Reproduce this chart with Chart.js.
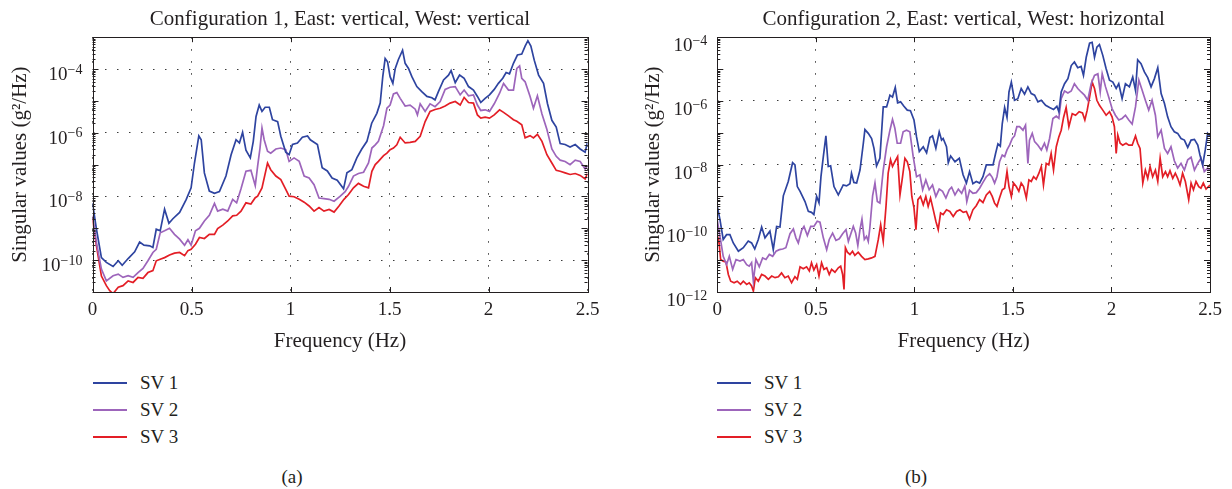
<!DOCTYPE html>
<html>
<head>
<meta charset="utf-8">
<script src="https://cdn.jsdelivr.net/npm/chart.js@4.4.1/dist/chart.umd.min.js"></script>
<style>
  body { margin: 0; background: #fff; }
  #page { position: relative; width: 1232px; height: 489px; font-family: "Liberation Serif", serif; color: #231f20; }
  #page canvas { position: absolute; top: 0; }
  .leg { position: absolute; height: 24px; line-height: 24px; font-size: 19px; white-space: nowrap; }
  .leg .sw { position: absolute; left: 0; top: 11px; width: 34px; height: 2px; }
  .leg .tx { position: absolute; left: 47px; top: 0; }
  .cap { position: absolute; font-size: 19px; line-height: 24px; width: 60px; text-align: center; }
</style>
</head>
<body>
<div id="page">
  <canvas id="chartA" width="616" height="356" style="left:0"></canvas>
  <canvas id="chartB" width="616" height="356" style="left:616px"></canvas>
  <div id="legendA"></div>
  <div id="legendB"></div>
  <div class="cap" style="left:262px; top:465px">(a)</div>
  <div class="cap" style="left:886px; top:465px">(b)</div>
</div>
<script>
// values are [frequency Hz, log10 of singular value]
const seriesNames = ['SV 1', 'SV 2', 'SV 3'];
const seriesColors = ['#2e44a0', '#9d65bb', '#e31e26'];
const xTickValues = [0, 0.5, 1, 1.5, 2, 2.5];
const yLabelExpsA = [-4, -6, -8, -10];
const yLabelExpsB = [-4, -6, -8, -10, -12];
const titleA = 'Configuration 1, East: vertical, West: vertical';
const titleB = 'Configuration 2, East: vertical, West: horizontal';

const svA1 = [[0,-8.2],[0.02,-9.03],[0.045,-9.92],[0.07,-10.07],[0.104,-10.2],[0.13,-10.02],[0.15,-10.16],[0.18,-9.95],[0.213,-9.74],[0.238,-9.43],[0.26,-9.53],[0.289,-9.55],[0.305,-9.6],[0.322,-9.03],[0.342,-9.08],[0.364,-8.4],[0.386,-8.84],[0.406,-8.7],[0.44,-8.5],[0.473,-8.1],[0.498,-7.73],[0.515,-6.95],[0.537,-6.1],[0.549,-6.22],[0.565,-7.26],[0.59,-7.83],[0.616,-7.9],[0.641,-7.85],[0.674,-7.36],[0.7,-6.69],[0.725,-6.22],[0.742,-6.32],[0.758,-5.99],[0.775,-6.55],[0.797,-6.79],[0.812,-6.27],[0.826,-5.49],[0.842,-5.13],[0.856,-5.33],[0.872,-5.2],[0.893,-5.2],[0.909,-5.59],[0.935,-5.65],[0.951,-6.11],[0.976,-6.61],[0.993,-6.69],[1.01,-6.37],[1.035,-6.32],[1.06,-6.14],[1.086,-6.1],[1.1,-6.22],[1.136,-6.37],[1.16,-7.1],[1.186,-7.2],[1.21,-7.42],[1.236,-7.49],[1.268,-7.76],[1.285,-7.26],[1.31,-7.16],[1.335,-6.79],[1.36,-6.51],[1.386,-6.27],[1.41,-5.7],[1.436,-5.39],[1.453,-5.07],[1.466,-4.24],[1.478,-3.67],[1.49,-3.77],[1.503,-4.24],[1.517,-4.45],[1.529,-3.98],[1.545,-3.7],[1.566,-3.41],[1.579,-3.82],[1.596,-3.98],[1.613,-4.24],[1.638,-4.55],[1.663,-4.71],[1.689,-4.86],[1.714,-4.9],[1.73,-4.97],[1.747,-4.71],[1.773,-4.34],[1.798,-4.19],[1.811,-4.05],[1.832,-4.43],[1.854,-4.19],[1.877,-4.29],[1.899,-4.55],[1.924,-4.66],[1.944,-4.86],[1.961,-5.05],[1.983,-4.92],[2.005,-4.81],[2.029,-4.64],[2.05,-4.45],[2.072,-4.29],[2.089,-4.11],[2.106,-4.15],[2.126,-3.82],[2.146,-3.56],[2.168,-3.53],[2.185,-3.28],[2.199,-3.11],[2.214,-3.28],[2.231,-3.72],[2.253,-4.19],[2.278,-4.45],[2.298,-5.09],[2.32,-5.61],[2.342,-5.82],[2.362,-6.34],[2.387,-6.37],[2.412,-6.45],[2.438,-6.37],[2.463,-6.51],[2.488,-6.61],[2.5,-6.3]];
const svA2 = [[0,-8.6],[0.02,-9.45],[0.045,-10.28],[0.07,-10.65],[0.104,-10.49],[0.13,-10.44],[0.154,-10.54],[0.18,-10.49],[0.205,-10.54],[0.23,-10.39],[0.255,-10.26],[0.28,-10.02],[0.305,-9.76],[0.322,-9.66],[0.342,-9.14],[0.364,-9.08],[0.389,-9.0],[0.414,-9.19],[0.44,-9.34],[0.465,-9.53],[0.482,-9.36],[0.498,-9.53],[0.52,-9.08],[0.54,-9.0],[0.565,-8.77],[0.59,-8.59],[0.616,-8.22],[0.632,-8.46],[0.658,-8.4],[0.683,-8.46],[0.708,-8.09],[0.728,-8.2],[0.75,-7.76],[0.775,-7.21],[0.8,-7.18],[0.822,-7.66],[0.834,-7.05],[0.846,-6.48],[0.856,-5.85],[0.867,-6.22],[0.884,-6.58],[0.9,-6.64],[0.926,-6.51],[0.951,-6.48],[0.976,-6.53],[0.993,-6.9],[1.018,-6.79],[1.044,-6.9],[1.069,-7.36],[1.094,-7.42],[1.119,-7.63],[1.144,-8.05],[1.169,-8.07],[1.195,-8.09],[1.22,-8.15],[1.25,-8.0],[1.276,-7.85],[1.293,-7.68],[1.318,-7.36],[1.343,-7.28],[1.369,-7.24],[1.394,-6.95],[1.411,-6.48],[1.428,-6.38],[1.444,-6.27],[1.47,-5.78],[1.487,-5.23],[1.503,-5.13],[1.52,-4.78],[1.537,-4.74],[1.554,-4.92],[1.579,-5.16],[1.604,-5.13],[1.63,-5.26],[1.641,-5.44],[1.655,-5.09],[1.68,-5.33],[1.705,-5.09],[1.73,-5.18],[1.756,-5.02],[1.781,-4.64],[1.806,-4.57],[1.832,-4.55],[1.857,-4.81],[1.877,-4.66],[1.899,-4.84],[1.924,-4.81],[1.944,-5.13],[1.961,-5.3],[1.983,-5.28],[2.005,-5.33],[2.029,-5.09],[2.056,-4.76],[2.076,-4.45],[2.101,-4.66],[2.126,-4.66],[2.143,-3.98],[2.157,-3.9],[2.168,-4.29],[2.185,-4.4],[2.21,-4.86],[2.227,-5.23],[2.247,-4.84],[2.27,-5.41],[2.295,-5.9],[2.32,-6.51],[2.342,-6.74],[2.362,-6.86],[2.387,-6.9],[2.412,-7.0],[2.438,-6.86],[2.463,-6.9],[2.488,-7.14],[2.5,-7.05]];
const svA3 = [[0,-8.7],[0.02,-9.55],[0.045,-10.5],[0.07,-10.8],[0.087,-10.96],[0.104,-11.05],[0.13,-10.85],[0.154,-10.8],[0.18,-10.65],[0.205,-10.7],[0.23,-10.54],[0.255,-10.57],[0.28,-10.39],[0.305,-10.33],[0.322,-10.02],[0.342,-9.97],[0.364,-9.92],[0.389,-9.84],[0.414,-9.78],[0.44,-9.76],[0.465,-9.86],[0.482,-9.7],[0.498,-9.66],[0.52,-9.5],[0.54,-9.29],[0.565,-9.32],[0.59,-9.19],[0.616,-9.19],[0.632,-9.01],[0.658,-8.9],[0.683,-8.77],[0.708,-8.61],[0.728,-8.59],[0.75,-8.46],[0.775,-8.2],[0.8,-8.24],[0.822,-8.04],[0.834,-7.99],[0.856,-7.73],[0.884,-6.95],[0.9,-7.16],[0.926,-7.36],[0.951,-7.47],[0.976,-7.78],[0.993,-7.99],[1.018,-8.01],[1.044,-8.09],[1.069,-8.18],[1.094,-8.3],[1.119,-8.46],[1.144,-8.35],[1.169,-8.46],[1.195,-8.41],[1.22,-8.49],[1.245,-8.3],[1.27,-8.09],[1.293,-7.94],[1.318,-7.73],[1.343,-7.59],[1.369,-7.68],[1.394,-7.73],[1.411,-7.21],[1.428,-7.0],[1.444,-6.9],[1.47,-6.72],[1.487,-6.64],[1.503,-6.53],[1.52,-6.48],[1.537,-6.38],[1.554,-6.14],[1.579,-6.32],[1.604,-6.3],[1.63,-6.27],[1.655,-6.11],[1.68,-5.65],[1.705,-5.33],[1.73,-5.27],[1.756,-5.23],[1.781,-5.16],[1.806,-5.07],[1.832,-5.02],[1.857,-5.13],[1.877,-4.89],[1.899,-5.05],[1.924,-5.07],[1.944,-5.44],[1.961,-5.54],[1.983,-5.51],[2.005,-5.54],[2.029,-5.44],[2.056,-5.28],[2.076,-5.36],[2.101,-5.47],[2.126,-5.59],[2.143,-5.64],[2.168,-5.75],[2.185,-6.16],[2.21,-6.09],[2.227,-6.16],[2.247,-6.05],[2.27,-6.27],[2.295,-6.69],[2.32,-6.95],[2.342,-7.18],[2.362,-7.21],[2.387,-7.26],[2.412,-7.31],[2.438,-7.28],[2.463,-7.34],[2.488,-7.45],[2.5,-7.28]];

const svB1 = [[0,-9.31],[0.0135,-9.73],[0.03,-10.35],[0.047,-10.2],[0.064,-10.2],[0.081,-10.46],[0.107,-10.72],[0.132,-10.61],[0.157,-10.4],[0.174,-10.46],[0.19,-10.65],[0.208,-10.35],[0.225,-9.96],[0.242,-10.3],[0.267,-10.09],[0.284,-10.67],[0.301,-9.94],[0.318,-9.96],[0.335,-8.98],[0.36,-8.53],[0.382,-7.94],[0.394,-8.01],[0.406,-8.69],[0.42,-8.84],[0.445,-9.16],[0.462,-9.47],[0.478,-9.5],[0.49,-9.57],[0.504,-9.0],[0.516,-9.2],[0.526,-8.38],[0.538,-7.75],[0.551,-7.1],[0.563,-8.06],[0.575,-8.04],[0.592,-8.69],[0.614,-8.95],[0.639,-8.64],[0.656,-8.67],[0.673,-8.6],[0.681,-8.27],[0.693,-8.56],[0.707,-8.58],[0.724,-8.17],[0.741,-7.33],[0.749,-6.9],[0.766,-7.02],[0.783,-7.18],[0.795,-7.49],[0.808,-8.04],[0.825,-7.8],[0.842,-6.19],[0.859,-6.19],[0.876,-5.82],[0.889,-5.88],[0.903,-5.58],[0.915,-6.06],[0.93,-6.03],[0.947,-6.17],[0.964,-6.29],[0.98,-6.31],[0.998,-6.6],[1.011,-7.13],[1.025,-7.59],[1.045,-7.44],[1.062,-7.63],[1.079,-7.15],[1.092,-7.1],[1.109,-7.49],[1.126,-6.97],[1.138,-7.23],[1.146,-7.18],[1.163,-7.44],[1.172,-7.94],[1.184,-7.73],[1.206,-7.91],[1.228,-7.8],[1.247,-8.32],[1.264,-8.58],[1.28,-8.22],[1.297,-8.6],[1.314,-8.53],[1.331,-8.58],[1.348,-8.38],[1.365,-8.01],[1.382,-8.01],[1.399,-8.01],[1.412,-7.65],[1.424,-7.35],[1.436,-7.42],[1.446,-6.71],[1.458,-6.21],[1.47,-6.52],[1.48,-5.72],[1.492,-5.41],[1.508,-5.98],[1.525,-5.93],[1.542,-5.61],[1.559,-5.79],[1.576,-5.56],[1.593,-5.77],[1.61,-5.82],[1.627,-6.03],[1.644,-5.98],[1.666,-6.14],[1.686,-6.21],[1.706,-6.27],[1.723,-6.17],[1.733,-6.34],[1.745,-5.72],[1.762,-5.46],[1.779,-5.3],[1.796,-4.89],[1.812,-4.78],[1.829,-4.96],[1.846,-4.92],[1.858,-5.2],[1.872,-4.63],[1.889,-4.19],[1.902,-4.16],[1.914,-4.63],[1.926,-4.31],[1.939,-4.23],[1.956,-4.57],[1.973,-4.99],[1.99,-5.35],[2.007,-5.41],[2.024,-5.61],[2.037,-5.46],[2.054,-5.93],[2.071,-5.46],[2.091,-5.56],[2.108,-5.25],[2.122,-5.67],[2.133,-4.71],[2.15,-4.83],[2.167,-5.09],[2.184,-5.27],[2.201,-5.56],[2.218,-5.3],[2.235,-4.96],[2.252,-5.77],[2.269,-6.08],[2.285,-6.5],[2.302,-6.81],[2.319,-6.97],[2.336,-7.02],[2.353,-7.18],[2.37,-7.23],[2.387,-7.46],[2.404,-7.23],[2.421,-7.21],[2.438,-7.39],[2.449,-7.7],[2.463,-8.01],[2.476,-7.54],[2.488,-7.02],[2.5,-7.1]];
const svB2 = [[0,-9.75],[0.0135,-10.25],[0.03,-10.88],[0.047,-11.14],[0.061,-10.88],[0.078,-11.29],[0.095,-10.98],[0.115,-11.03],[0.132,-10.98],[0.149,-11.14],[0.162,-11.19],[0.174,-11.08],[0.183,-11.66],[0.196,-10.98],[0.213,-11.21],[0.23,-10.93],[0.247,-10.98],[0.264,-10.82],[0.281,-10.88],[0.298,-10.72],[0.315,-10.67],[0.332,-10.65],[0.348,-10.61],[0.369,-10.17],[0.386,-10.02],[0.399,-10.3],[0.411,-10.46],[0.428,-10.06],[0.44,-9.94],[0.457,-10.23],[0.474,-9.94],[0.49,-9.94],[0.507,-9.78],[0.521,-9.81],[0.538,-10.3],[0.555,-10.67],[0.568,-10.35],[0.585,-10.15],[0.602,-10.38],[0.619,-10.33],[0.636,-10.17],[0.653,-10.04],[0.665,-10.41],[0.676,-10.2],[0.69,-9.94],[0.702,-10.15],[0.713,-10.54],[0.724,-10.04],[0.734,-9.71],[0.746,-10.35],[0.757,-10.25],[0.766,-10.41],[0.774,-9.99],[0.788,-8.98],[0.8,-8.58],[0.812,-9.16],[0.825,-9.21],[0.842,-8.17],[0.859,-7.44],[0.876,-6.92],[0.889,-6.58],[0.901,-6.86],[0.913,-7.33],[0.93,-7.33],[0.943,-6.97],[0.96,-6.92],[0.977,-6.97],[0.994,-7.75],[1.011,-8.38],[1.028,-8.32],[1.042,-8.79],[1.058,-8.48],[1.075,-8.79],[1.092,-8.64],[1.109,-9.0],[1.126,-8.77],[1.143,-8.84],[1.16,-9.05],[1.177,-8.79],[1.189,-8.71],[1.206,-8.95],[1.223,-8.77],[1.24,-8.9],[1.256,-8.67],[1.266,-9.16],[1.28,-8.81],[1.297,-8.9],[1.314,-8.88],[1.331,-8.74],[1.348,-8.56],[1.365,-8.38],[1.382,-8.29],[1.395,-8.4],[1.407,-8.58],[1.419,-8.38],[1.432,-7.91],[1.446,-7.7],[1.458,-7.75],[1.47,-7.54],[1.483,-7.39],[1.497,-7.18],[1.508,-7.1],[1.52,-6.81],[1.534,-6.81],[1.551,-6.92],[1.564,-6.76],[1.576,-7.96],[1.584,-7.23],[1.598,-7.02],[1.61,-7.28],[1.627,-7.39],[1.644,-7.54],[1.66,-7.33],[1.672,-7.54],[1.686,-7.18],[1.703,-6.55],[1.72,-6.48],[1.733,-6.55],[1.745,-5.93],[1.762,-5.69],[1.779,-5.75],[1.796,-5.69],[1.812,-5.46],[1.829,-5.61],[1.846,-5.72],[1.863,-5.82],[1.88,-5.98],[1.897,-5.46],[1.914,-5.2],[1.931,-5.15],[1.943,-5.72],[1.953,-5.15],[1.97,-5.56],[1.986,-5.88],[2.003,-6.24],[2.02,-6.45],[2.037,-6.6],[2.054,-6.55],[2.071,-6.45],[2.088,-6.6],[2.105,-6.73],[2.122,-6.19],[2.139,-5.35],[2.155,-5.65],[2.172,-5.98],[2.189,-6.29],[2.206,-5.98],[2.223,-6.45],[2.235,-7.13],[2.252,-6.92],[2.269,-7.49],[2.285,-7.65],[2.302,-7.44],[2.319,-7.88],[2.336,-8.11],[2.353,-7.96],[2.37,-8.17],[2.387,-7.85],[2.404,-7.77],[2.421,-8.17],[2.438,-7.96],[2.454,-7.8],[2.471,-8.22],[2.488,-8.11],[2.5,-8.17]];
const svB3 = [[0,-10.46],[0.007,-10.33],[0.017,-10.98],[0.03,-11.03],[0.044,-11.06],[0.056,-11.45],[0.068,-11.66],[0.085,-11.71],[0.101,-11.66],[0.118,-11.76],[0.132,-11.66],[0.149,-11.76],[0.162,-11.71],[0.174,-11.81],[0.183,-11.97],[0.193,-11.55],[0.208,-11.66],[0.225,-11.45],[0.242,-11.5],[0.259,-11.6],[0.276,-11.5],[0.293,-11.55],[0.31,-11.52],[0.326,-11.4],[0.343,-11.55],[0.36,-11.5],[0.377,-11.71],[0.394,-11.52],[0.406,-11.6],[0.42,-11.21],[0.436,-11.27],[0.453,-11.21],[0.467,-11.34],[0.478,-11.08],[0.49,-11.31],[0.504,-11.14],[0.516,-11.5],[0.529,-11.08],[0.541,-11.29],[0.555,-11.24],[0.568,-11.45],[0.58,-11.29],[0.597,-11.38],[0.614,-11.24],[0.626,-11.19],[0.636,-11.45],[0.643,-11.92],[0.65,-10.61],[0.66,-10.75],[0.673,-10.82],[0.686,-10.72],[0.698,-10.85],[0.715,-10.75],[0.732,-10.88],[0.749,-10.98],[0.766,-10.96],[0.783,-10.93],[0.8,-10.88],[0.817,-10.35],[0.829,-9.89],[0.842,-10.41],[0.856,-9.31],[0.867,-8.27],[0.879,-7.85],[0.889,-8.06],[0.901,-7.91],[0.915,-7.75],[0.927,-8.95],[0.94,-8.38],[0.952,-7.8],[0.964,-7.91],[0.977,-8.22],[0.987,-9.0],[0.998,-9.36],[1.008,-10.04],[1.018,-9.1],[1.031,-9.0],[1.045,-9.26],[1.058,-9.0],[1.07,-9.31],[1.082,-9.05],[1.096,-9.42],[1.109,-9.78],[1.121,-10.04],[1.133,-9.52],[1.146,-9.57],[1.163,-9.42],[1.18,-9.47],[1.197,-9.63],[1.214,-9.47],[1.231,-9.42],[1.248,-9.5],[1.264,-9.47],[1.28,-9.71],[1.297,-9.42],[1.314,-9.29],[1.331,-9.1],[1.348,-9.19],[1.365,-8.95],[1.382,-8.84],[1.395,-9.0],[1.407,-9.21],[1.419,-9.31],[1.432,-9.05],[1.446,-8.79],[1.458,-8.74],[1.47,-8.22],[1.48,-8.69],[1.492,-9.0],[1.503,-8.58],[1.517,-8.69],[1.53,-8.84],[1.542,-8.58],[1.554,-8.69],[1.568,-9.05],[1.581,-8.48],[1.593,-8.53],[1.605,-8.38],[1.618,-8.46],[1.632,-8.27],[1.644,-8.06],[1.655,-8.64],[1.669,-7.96],[1.682,-8.01],[1.694,-7.65],[1.706,-8.17],[1.72,-7.44],[1.733,-7.13],[1.745,-6.92],[1.757,-6.52],[1.77,-6.21],[1.784,-6.81],[1.801,-6.4],[1.818,-6.45],[1.836,-6.34],[1.853,-6.38],[1.865,-6.6],[1.877,-6.29],[1.889,-5.88],[1.902,-5.41],[1.914,-5.61],[1.926,-5.98],[1.939,-6.14],[1.956,-6.29],[1.973,-6.45],[1.99,-6.34],[2.003,-6.5],[2.015,-6.81],[2.024,-7.65],[2.032,-7.07],[2.044,-7.33],[2.057,-7.39],[2.074,-7.33],[2.088,-7.39],[2.105,-7.39],[2.122,-7.1],[2.133,-7.33],[2.145,-7.49],[2.159,-8.58],[2.172,-8.17],[2.184,-8.43],[2.196,-8.06],[2.209,-8.38],[2.223,-8.17],[2.235,-8.53],[2.247,-7.8],[2.26,-8.38],[2.274,-8.22],[2.285,-8.38],[2.297,-8.19],[2.311,-8.43],[2.324,-8.27],[2.336,-8.43],[2.348,-8.64],[2.361,-8.27],[2.375,-8.53],[2.392,-9.1],[2.404,-8.58],[2.416,-8.79],[2.429,-8.53],[2.443,-8.69],[2.454,-8.74],[2.466,-8.58],[2.48,-8.77],[2.5,-8.64]];

const FONT = '"Liberation Serif", "Times New Roman", serif';
const INK = '#231f20';

function toPoints(pairs) {
    return pairs.map(p => ({ x: p[0], y: Math.pow(10, p[1]) }));
}

// box, inward ticks and 10^n labels, drawn like the original figure
const boxAxes = {
    id: 'boxAxes',
    afterDraw(chart, args, opts) {
        const { ctx, chartArea, scales } = chart;
        const { left, right, top, bottom } = chartArea;
        const x = scales.x, y = scales.y;
        ctx.save();
        ctx.strokeStyle = INK;
        ctx.lineWidth = 1;
        ctx.beginPath();
        xTickValues.forEach(v => {
            const px = Math.round(x.getPixelForValue(v)) + 0.5;
            ctx.moveTo(px, bottom); ctx.lineTo(px, bottom - 5);
            ctx.moveTo(px, top); ctx.lineTo(px, top + 5);
        });
        const lo = Math.floor(Math.log10(y.min)), hi = Math.ceil(Math.log10(y.max));
        for (let d = lo; d <= hi; d++) {
            for (let m = 1; m < 10; m++) {
                const py = Math.round(y.getPixelForValue(m * Math.pow(10, d))) + 0.5;
                if (py < top || py > bottom + 1) continue;
                const len = m === 1 ? 6 : 3;
                ctx.moveTo(left, py); ctx.lineTo(left + len, py);
                ctx.moveTo(right, py); ctx.lineTo(right - len, py);
            }
        }
        ctx.stroke();
        ctx.strokeRect(Math.round(left) + 0.5, Math.round(top) + 0.5, Math.round(right - left), Math.round(bottom - top));

        ctx.fillStyle = INK;
        ctx.textBaseline = 'middle';
        ctx.textAlign = 'left';
        opts.exps.forEach(e => {
            const py = y.getPixelForValue(Math.pow(10, e));
            const sup = '\u2212' + Math.abs(e);
            ctx.font = '14px ' + FONT;
            const ws = ctx.measureText(sup).width;
            ctx.font = '19px ' + FONT;
            const wb = ctx.measureText('10').width;
            const xr = left - 10;
            ctx.fillText('10', xr - ws - wb, py + opts.drop);
            ctx.font = '14px ' + FONT;
            ctx.fillText(sup, xr - ws, py + opts.drop - 5);
        });
        ctx.restore();
    }
};

function makePanel(canvasId, title, series, yMin, yMax, exps, axisWidth, yTitlePad, rightPad, drop) {
    new Chart(document.getElementById(canvasId), {
        type: 'line',
        data: {
            datasets: series.map((s, i) => ({
                label: seriesNames[i],
                data: toPoints(s),
                borderColor: seriesColors[i],
                backgroundColor: seriesColors[i],
                borderWidth: 1.7,
                pointRadius: 0,
                tension: 0,
                fill: false
            }))
        },
        options: {
            responsive: false,
            maintainAspectRatio: false,
            animation: false,
            layout: { padding: { left: 0, right: rightPad, top: 0, bottom: 2 } },
            plugins: {
                legend: { display: false },
                tooltip: { enabled: false },
                title: {
                    display: true,
                    text: title,
                    fullSize: false,
                    color: INK,
                    font: { family: FONT, size: 21, weight: 'normal', lineHeight: 1.2 },
                    padding: { top: 7, bottom: 5 }
                },
                boxAxes: { exps: exps, drop: drop }
            },
            scales: {
                x: {
                    type: 'linear',
                    min: 0,
                    max: 2.5,
                    afterBuildTicks: (scale) => { scale.ticks = xTickValues.map(v => ({ value: v })); },
                    ticks: {
                        padding: 7,
                        color: INK,
                        font: { family: FONT, size: 19 },
                        maxRotation: 0,
                        callback: (value) => String(value)
                    },
                    grid: { color: '#3a3a3a', lineWidth: 1, drawTicks: false },
                    border: { display: false, dash: [1.5, 10.5] },
                    title: {
                        display: true,
                        text: 'Frequency (Hz)',
                        color: INK,
                        font: { family: FONT, size: 21, lineHeight: 1.2 },
                        padding: { top: 0, bottom: 0 }
                    },
                    afterFit: (scale) => { scale.height = 62; }
                },
                y: {
                    type: 'logarithmic',
                    min: yMin,
                    max: yMax,
                    afterBuildTicks: (scale) => { scale.ticks = exps.map(e => ({ value: Math.pow(10, e) })); },
                    ticks: { display: false },
                    grid: { color: '#3a3a3a', lineWidth: 1, drawTicks: false },
                    border: { display: false, dash: [1.5, 10.5] },
                    title: {
                        display: true,
                        text: 'Singular values (g\u00b2/Hz)',
                        color: INK,
                        font: { family: FONT, size: 21, lineHeight: 1.2 },
                        padding: { top: yTitlePad, bottom: 0 }
                    },
                    afterFit: (scale) => { scale.width = axisWidth; }
                }
            }
        },
        plugins: [boxAxes]
    });
}

function makeLegend(holderId, left) {
    const holder = document.getElementById(holderId);
    const rowsY = [383, 410, 437];
    seriesNames.forEach((name, i) => {
        const row = document.createElement('div');
        row.className = 'leg';
        row.style.left = left + 'px';
        row.style.top = (rowsY[i] - 12) + 'px';
        row.innerHTML = '<span class="sw" style="background:' + seriesColors[i] + '"></span><span class="tx">' + name + '</span>';
        holder.appendChild(row);
    });
}

document.addEventListener('DOMContentLoaded', () => {
    makePanel('chartA', titleA, [svA1, svA2, svA3], 1e-11, 1e-3, yLabelExpsA, 92.5, 7.4, 28.5, 6);
    makePanel('chartB', titleB, [svB1, svB2, svB3], 1e-12, 1e-4, yLabelExpsB, 101.3, 24.4, 22, 9);
    makeLegend('legendA', 93);
    makeLegend('legendB', 717);
});
</script>
</body>
</html>
